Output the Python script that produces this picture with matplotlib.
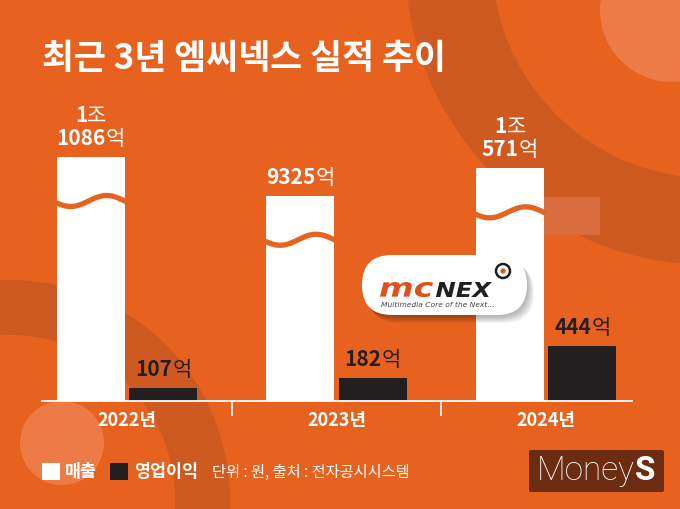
import numpy as np
import matplotlib.pyplot as plt
from matplotlib.patches import Circle, Wedge, Rectangle, FancyBboxPatch, PathPatch
from matplotlib.offsetbox import TextArea, HPacker, VPacker, AnnotationBbox
from matplotlib.textpath import TextPath
from matplotlib.font_manager import FontProperties
from matplotlib.transforms import Affine2D

plt.rcParams['font.family'] = ['Noto Sans CJK KR', 'DejaVu Sans']

# 데이터 (단위: 억원)
years = ['2022년', '2023년', '2024년']
revenue = [11086, 9325, 10571]    # 매출
op_profit = [107, 182, 444]       # 영업이익

BG = '#E8621F'
DARK = '#CE5A21'
LIGHT = '#EC7B47'
BLACK = '#231F20'

W, H = 680, 509
fig = plt.figure(figsize=(6.8, 5.09), dpi=100)
fig.patch.set_facecolor(BG)

# 배경 장식
bg = fig.add_axes([0, 0, 1, 1], zorder=0)
bg.set_xlim(0, W)
bg.set_ylim(H, 0)
bg.axis('off')
bg.add_patch(Wedge((710, -40), 305, 0, 360, width=87, color=DARK, lw=0))
bg.add_patch(Circle((672, 10), 72, color=LIGHT, lw=0))
bg.add_patch(Rectangle((543, 197), 57, 38, color='#D96D3D', lw=0))
bg.add_patch(Wedge((10, 500), 220, 0, 360, width=55, color=DARK, lw=0))
bg.add_patch(Circle((62, 443), 42, color=LIGHT, lw=0))
bg.text(42, 58, '최근 3년 엠씨넥스 실적 추이', fontsize=25, fontweight='bold',
        color='white', va='center', ha='left')

# 막대 영역
AX_L, AX_R, AX_B, AX_T = 42, 632, 401, 80
ax_h = AX_B - AX_T
ax = fig.add_axes([AX_L / W, 1 - AX_B / H, (AX_R - AX_L) / W, ax_h / H], zorder=2)
ax2 = ax.twinx()
ax.patch.set_visible(False)
ax2.patch.set_visible(False)

ax.set_ylim(0, ax_h * 8.0)            # 영업이익 축
ax2.set_ylim(0, ax_h / 0.02201)       # 매출 축 (물결 생략)
ax.set_xlim(-0.406, 2.410)

x = np.arange(len(years))
off, bw = 0.173, 0.325
rev_bars = ax2.bar(x - off, revenue, bw, color='white', zorder=2)
op_bars = ax.bar(x + off, op_profit, bw, color=BLACK, zorder=2)

# 물결 (생략 표시)
rev_per_px = ax2.get_ylim()[1] / ax_h
t = np.linspace(0, 1, 80)
for xi, v in zip(x - off, revenue):
    xs = xi - bw / 2 - 0.01 + t * (bw + 0.02)
    ys = v - (44 + 5.5 * np.sin(2 * np.pi * (t + 0.03))) * rev_per_px
    ax2.plot(xs, ys, color=BG, lw=3.8, solid_capstyle='butt', zorder=3)

for a in (ax, ax2):
    for s in a.spines.values():
        s.set_visible(False)
    a.set_yticks([])
ax.spines['bottom'].set_visible(True)
ax.spines['bottom'].set_color('white')
ax.spines['bottom'].set_linewidth(1.3)

ax.set_xticks([0.5, 1.5])
ax.set_xticklabels([])
ax.tick_params(axis='x', which='major', length=11, width=1.2, color='white', direction='out')
ax.set_xticks(x, minor=True)
ax.set_xticklabels(years, minor=True)
ax.tick_params(axis='x', which='minor', length=0, pad=7, labelsize=13, labelcolor='white')
for lab in ax.get_xticklabels(minor=True):
    lab.set_fontweight('bold')


def value_box(v, color):
    jo, eok = divmod(v, 10000)
    lines = []
    parts = [(jo, '조'), (eok, '억')] if jo else [(eok, '억')]
    for num, unit in parts:
        lines.append(HPacker(children=[
            TextArea(str(num), textprops=dict(color=color, fontsize=15, fontweight='bold')),
            TextArea(unit, textprops=dict(color=color, fontsize=15, fontweight='normal'))],
            pad=0, sep=0, align='baseline'))
    return VPacker(children=lines, align='center', pad=0, sep=1)


for xi, v in zip(x - off, revenue):
    ax2.add_artist(AnnotationBbox(value_box(v, 'white'), (xi, v), xycoords='data',
                                  xybox=(0, 5), boxcoords='offset points',
                                  box_alignment=(0.5, 0), frameon=False, zorder=4))
for xi, v in zip(x + off, op_profit):
    ax.add_artist(AnnotationBbox(value_box(v, BLACK), (xi, v), xycoords='data',
                                 xybox=(0, 5), boxcoords='offset points',
                                 box_alignment=(0.5, 0), frameon=False, zorder=4))

# 로고, 범례, 출처
fg = fig.add_axes([0, 0, 1, 1], zorder=5)
fg.set_xlim(0, W)
fg.set_ylim(H, 0)
fg.axis('off')
fg.patch.set_visible(False)

for i in range(7):
    fg.add_patch(FancyBboxPatch((363 + i, 257 + i), 165, 60,
                                boxstyle='round,pad=0,rounding_size=30',
                                fc='black', ec='none', alpha=0.045))
fg.add_patch(FancyBboxPatch((362, 255), 165, 60, boxstyle='round,pad=0,rounding_size=30',
                            fc='white', ec='none'))

logo_font = FontProperties(family='DejaVu Sans', weight='heavy', style='italic')


def stretched_text(s, x0, x1, y_top, y_bot, color):
    tp = TextPath((0, 0), s, size=20, prop=logo_font)
    ext = tp.get_extents()
    sx = (x1 - x0) / ext.width
    sy = (y_bot - y_top) / ext.height
    tr = Affine2D().translate(-ext.x0, -ext.y0).scale(sx, -sy).translate(x0, y_bot)
    fg.add_patch(PathPatch(tr.transform_path(tp), fc=color, ec='none'))


stretched_text('mc', 380, 433, 282, 297, '#E0501A')
stretched_text('NEX', 436, 492, 282, 297, BLACK)
fg.text(381, 305, 'Multimedia Core of the Next...', color='#444444', fontsize=5.4,
        fontstyle='italic', family='DejaVu Sans', va='center')
fg.add_patch(Circle((503, 271), 7, fc='white', ec=BLACK, lw=1.8))
fg.add_patch(Circle((503, 271), 2.6, color='#E0501A', lw=0))

fg.add_patch(Rectangle((42, 463), 18, 17, color='white', lw=0))
fg.text(65, 472, '매출', fontsize=12.5, fontweight='bold', color='white', va='center')
fg.add_patch(Rectangle((110, 463), 18, 17, color=BLACK, lw=0))
fg.text(134, 472, '영업이익', fontsize=12.5, fontweight='bold', color='white', va='center')
fg.text(212, 472, '단위 : 원, 출처 : 전자공시시스템', fontsize=11, color='white', va='center')

fg.add_patch(FancyBboxPatch((529, 450), 135, 42, boxstyle='round,pad=0,rounding_size=2',
                            fc='#6B2C12', ec='none'))
brand = HPacker(children=[
    TextArea('Money', textprops=dict(color='white', fontsize=24, fontweight='light', family='Roboto')),
    TextArea('S', textprops=dict(color='white', fontsize=24, fontweight='bold', family='Roboto'))],
    pad=0, sep=0, align='baseline')
fg.add_artist(AnnotationBbox(brand, (596.5, 471), xycoords='data', box_alignment=(0.5, 0.5),
                             frameon=False))

fig.savefig('out.png', dpi=100, facecolor=BG)
